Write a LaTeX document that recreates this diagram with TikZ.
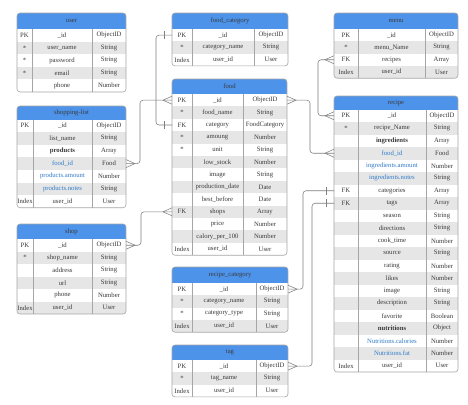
\documentclass[tikz,border=0pt]{standalone}
\usepackage{fontspec}
\setmainfont{Liberation Serif}
\definecolor{hdrblue}{HTML}{4D93EA}
\definecolor{stripegray}{HTML}{E6E6E6}
\definecolor{bordergray}{HTML}{A6A6A6}
\definecolor{conngray}{HTML}{7F7F7F}
\definecolor{txt}{HTML}{3A3A3A}
\definecolor{bluetxt}{HTML}{2F7BC8}
\def\erN{}
\def\erB{\bfseries}
\def\erC{\color{bluetxt}}
\def\erRH{12.5}
\def\erHH{15.5}
\newcommand{\ertable}[9]{%
  % #1 id, #2 title, #3 x1, #4 c1, #5 c2, #6 x2, #7 ytop, #8 rows count, #9 rows
  \pgfmathsetmacro\erhb{#7+\erHH}%
  \pgfmathsetmacro\erbot{\erhb+#8*\erRH}%
  \pgfmathsetmacro\erw{#6-#3}%
  \pgfmathsetmacro\erkx{(#3+#4)/2}%
  \pgfmathsetmacro\ernx{(#4+#5)/2}%
  \pgfmathsetmacro\ertx{(#5+#6)/2}%
  \begin{scope}
    \clip[rounded corners=3pt] (#3,#7) rectangle (#6,\erbot);
    \fill[hdrblue] (#3,#7) rectangle (#6,\erhb);
    \foreach \k/\n/\t/\s [count=\i] in {#9} {%
      \pgfmathsetmacro\ery{\erhb+(\i-1)*\erRH}%
      \ifodd\i\else\fill[stripegray] (#3,\ery) rectangle (#6,\ery+\erRH);\fi
    }
  \end{scope}
  \node[title] (#1) at ({(#3+#6)/2},{(#7+\erhb)/2}) {#2};
  \foreach \k/\n/\t/\s [count=\i] in {#9} {%
    \pgfmathsetmacro\ery{\erhb+(\i-1)*\erRH}%
    \node[rowbox, minimum width=\erw pt, minimum height=\erRH pt, anchor=north west] (#1-\i) at (#3,\ery) {};
    \node[cell] (#1-\i-k) at (\erkx,\ery+\erRH/2) {\k};
    \node[cell] (#1-\i-n) at (\ernx,\ery+\erRH/2) {\s\n};
    \node[cell] (#1-\i-t) at (\ertx,\ery+\erRH/2) {\t};
  }
  \draw[gridline] (#4,\erhb) -- (#4,\erbot) (#5,\erhb) -- (#5,\erbot);
  \draw[tblborder] (#3,#7) rectangle (#6,\erbot);
}
\begin{document}
\begin{tikzpicture}[x=1pt,y=-1pt,
  title/.style={font=\fontsize{6.7}{8}\selectfont, text=txt, inner sep=0pt},
  cell/.style={font=\fontsize{6.7}{8}\selectfont, text=txt, inner sep=0pt},
  rowbox/.style={inner sep=0pt, outer sep=0pt},
  gridline/.style={draw=bordergray, line width=0.5pt},
  tblborder/.style={draw=bordergray, line width=0.6pt, rounded corners=3pt},
  conn/.style={draw=conngray, line width=0.55pt, rounded corners=3pt},
  mark/.style={draw=conngray, line width=0.55pt},
  crowL/.pic={\draw[draw=conngray, line width=0.55pt] (0,-4) -- (-9,0) -- (0,4);},
  crowR/.pic={\draw[draw=conngray, line width=0.55pt] (0,-4) -- (9,0) -- (0,4);},
  oneL/.pic={\draw[draw=conngray, line width=0.55pt] (-8,-4) -- (-8,4);},
  oneR/.pic={\draw[draw=conngray, line width=0.55pt] (8,-4) -- (8,4);}
]
\fill[white] (0,0) rectangle (468,404);
\useasboundingbox (0,0) rectangle (468,404);

% user
\def\erHH{16}\def\erRH{12.6}
\ertable{user}{user}{17}{32}{92}{126}{13}{5}{PK/\_id/ObjectID/\erN, */user\_name/String/\erN, */password/String/\erN, */email/String/\erN, /phone/Number/\erN}

% shopping-list
\def\erHH{13.5}\def\erRH{12.6}
\ertable{shopping}{shopping-list}{17}{33}{92}{126}{106}{7}{PK/\_id/ObjectID/\erN, /list\_name/String/\erN, /products/Array/\erB, /food\_id/Food/\erC, /products.amount/Number/\erC, /products.notes/String/\erC, Index/user\_id/User/\erN}

% shop
\def\erHH{15}\def\erRH{12.5}
\ertable{shop}{shop}{17}{33}{92}{126}{224}{6}{PK/\_id/ObjectID/\erN, */shop\_name/String/\erN, /address/String/\erN, /url/String/\erN, /phone/Number/\erN, Index/user\_id/User/\erN}

% food_category
\def\erHH{16}\def\erRH{12.3}
\ertable{foodcat}{food\_category}{172}{192}{254}{288}{13}{3}{PK/\_id/ObjectID/\erN, */category\_name/String/\erN, Index/user\_id/User/\erN}

% food
\def\erHH{15}\def\erRH{12.4}
\ertable{food}{food}{172}{192}{243}{287}{79}{13}{PK/\_id/ObjectID/\erN, */food\_name/String/\erN, FK/category/FoodCategory/\erN, */amoung/Number/\erN, */unit/String/\erN, /low\_stock/Number/\erN, /image/String/\erN, /production\_date/Date/\erN, /best\_before/Date/\erN, FK/shops/Array/\erN, /price/Number/\erN, /calory\_per\_100/Number/\erN, Index/user\_id/User/\erN}

% recipe_category
\def\erHH{16}\def\erRH{12.3}
\ertable{reccat}{recipe\_category}{172}{192}{256}{288}{267}{4}{PK/\_id/ObjectID/\erN, */category\_name/String/\erN, */category\_type/String/\erN, Index/user\_id/User/\erN}

% tag
\def\erHH{15}\def\erRH{12.3}
\ertable{tag}{tag}{172}{192}{256}{288}{345}{3}{PK/\_id/ObjectID/\erN, */tag\_name/String/\erN, Index/user\_id/User/\erN}

% menu
\def\erHH{16}\def\erRH{12.3}
\ertable{menu}{menu}{334}{358}{425}{458}{13}{4}{PK/\_id/ObjectID/\erN, */menu\_Name/String/\erN, FK/recipes/Array/\erN, Index/user\_id/User/\erN}

% recipe
\def\erHH{13.5}\def\erRH{12.5}
\ertable{recipe}{recipe}{334}{358}{426}{458}{96}{21}{PK/\_id/ObjectID/\erN, */recipe\_Name/String/\erN, /ingredients/Array/\erB, /food\_id/Food/\erC, /ingredients.amount/Number/\erC, /ingredients.notes/String/\erC, FK/categories/Array/\erN, FK/tags/Array/\erN, /season/String/\erN, /directions/String/\erN, /cook\_time/Number/\erN, /source/String/\erN, /rating/Number/\erN, /likes/Number/\erN, /image/String/\erN, /description/String/\erN, /favorite/Boolean/\erN, /nutritions/Object/\erB, /Nutritions.calories/Number/\erC, /Nutritions.fat/Number/\erC, Index/user\_id/User/\erN}

% connectors
\draw[conn] (shopping-4.east) -- ++(14,0) |- (food-1.west);
\path (shopping-4.east) pic{crowR} (food-1.west) pic{crowL};

\draw[conn] (food-3.west) -- ++(-16,0) |- (foodcat-1.west);
\path (food-3.west) pic{oneL} (foodcat-1.west) pic{oneL};

\draw[conn] (shop-1.east) -- ++(15,0) |- (food-10.west);
\path (shop-1.east) pic{crowR} (food-10.west) pic{crowL};

\draw[conn] (food-1.east) -- ++(23,0) |- (recipe-4.west);
\path (food-1.east) pic{crowR} (recipe-4.west) pic{crowL};

\draw[conn] (menu-3.west) -- ++(-16,0) |- (recipe-1.west);
\path (menu-3.west) pic{crowL} (recipe-1.west) pic{crowL};

\draw[conn] (reccat-1.east) -- ++(15,0) |- (recipe-7.west);
\path (reccat-1.east) pic{crowR} (recipe-7.west) pic{oneL};

\draw[conn] (tag-1.east) -- ++(24,0) |- (recipe-8.west);
\path (tag-1.east) pic{crowR} (recipe-8.west) pic{oneL};
\end{tikzpicture}
\end{document}
